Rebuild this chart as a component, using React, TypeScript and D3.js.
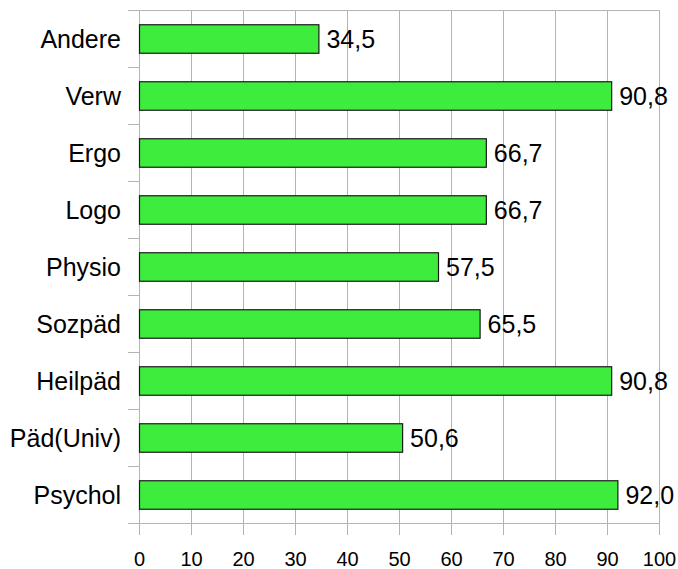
import React, { useEffect, useRef } from 'react';
import * as d3 from 'd3';

// categories listed top to bottom
const categories = ['Andere', 'Verw', 'Ergo', 'Logo', 'Physio', 'Sozpäd', 'Heilpäd', 'Päd(Univ)', 'Psychol'];
const values = [34.5, 90.8, 66.7, 66.7, 57.5, 65.5, 90.8, 50.6, 92.0];
const xTicks = [0, 10, 20, 30, 40, 50, 60, 70, 80, 90, 100];

export default function App() {
    const ref = useRef<SVGSVGElement>(null);

    useEffect(() => {
        const width = 678;
        const height = 569;
        const left = 139.5;
        const right = 659.5;
        const top = 10.5;
        const bottom = 523.5;
        const tickLen = 11.5;
        const grid = '#b3b3b3';
        const font = '"Liberation Sans", Arial, sans-serif';

        const svg = d3.select(ref.current);
        svg.selectAll('*').remove();
        svg.attr('width', width).attr('height', height);

        const x = d3.scaleLinear().domain([0, 100]).range([left, right]);
        const y = d3.scaleBand<string>()
            .domain(categories)
            .range([top, bottom])
            .paddingInner(0.5)
            .paddingOuter(0.25);
        const step = y.step();

        // vertical gridlines, with the tick marks below the plot
        svg.selectAll('line.grid')
            .data(xTicks)
            .enter()
            .append('line')
            .attr('class', 'grid')
            .attr('x1', d => x(d))
            .attr('x2', d => x(d))
            .attr('y1', top)
            .attr('y2', bottom + tickLen)
            .attr('stroke', grid)
            .attr('stroke-width', 1);

        // category boundaries: top and bottom lines span the plot, the rest are ticks
        const bounds = d3.range(categories.length + 1);
        svg.selectAll('line.cat')
            .data(bounds)
            .enter()
            .append('line')
            .attr('class', 'cat')
            .attr('x1', left - tickLen)
            .attr('x2', (d, i) => (i === 0 || i === categories.length) ? right : left)
            .attr('y1', d => top + d * step)
            .attr('y2', d => top + d * step)
            .attr('stroke', grid)
            .attr('stroke-width', 1);

        // bars
        svg.selectAll('rect.bar')
            .data(values)
            .enter()
            .append('rect')
            .attr('class', 'bar')
            .attr('x', x(0))
            .attr('y', (d, i) => (y(categories[i]) as number))
            .attr('width', d => x(d) - x(0))
            .attr('height', y.bandwidth())
            .attr('fill', '#3dec3d')
            .attr('stroke', '#1a1a1a')
            .attr('stroke-width', 1.2);

        // value labels
        svg.selectAll('text.value')
            .data(values)
            .enter()
            .append('text')
            .attr('class', 'value')
            .attr('x', d => x(d) + 7.5)
            .attr('y', (d, i) => (y(categories[i]) as number) + y.bandwidth() / 2)
            .attr('dy', '0.36em')
            .style('font-family', font)
            .style('font-size', '25px')
            .style('fill', '#000')
            .text(d => d.toFixed(1).replace('.', ','));

        // category labels
        svg.selectAll('text.cat')
            .data(categories)
            .enter()
            .append('text')
            .attr('class', 'cat')
            .attr('x', left - tickLen - 7)
            .attr('y', d => (y(d) as number) + y.bandwidth() / 2)
            .attr('dy', '0.36em')
            .attr('text-anchor', 'end')
            .style('font-family', font)
            .style('font-size', '25px')
            .style('fill', '#000')
            .text(d => d);

        // x tick labels
        svg.selectAll('text.tick')
            .data(xTicks)
            .enter()
            .append('text')
            .attr('class', 'tick')
            .attr('x', d => x(d))
            .attr('y', bottom + 42.5)
            .attr('text-anchor', 'middle')
            .style('font-family', font)
            .style('font-size', '20px')
            .style('fill', '#000')
            .text(d => d);
    }, []);

    return (
        <div>
            <svg ref={ref} style={{ position: 'absolute', left: 0, top: 0, background: '#fff' }}></svg>
        </div>
    );
}
